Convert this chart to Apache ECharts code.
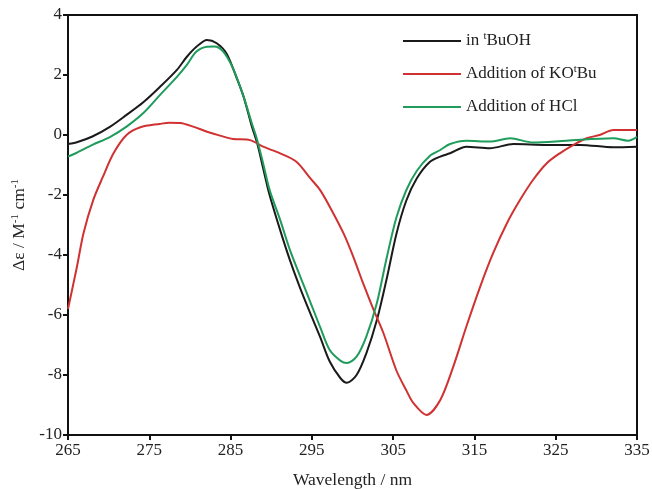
<!DOCTYPE html>
<html>
<head>
<meta charset="utf-8">
<script src="https://cdn.jsdelivr.net/npm/echarts@6/dist/echarts.min.js"></script>
<style>
  html, body { margin: 0; padding: 0; background: #fff; }
  #chart { width: 652px; height: 489px; }
</style>
</head>
<body>
<div id="chart"></div>
<script>
// CD spectra, wavelength (nm) vs delta epsilon
const butohX = [265, 266, 268, 270.2, 272.2, 274.3, 276.3, 278.4, 279.6, 280.8, 282.1, 283.3, 284.5, 285.7, 286.6, 287.6, 288.3, 289.0, 289.8, 291.1, 292.3, 293.5, 294.8, 296.0, 297.2, 298.5, 299.3, 300.5, 301.7, 303.0, 304.2, 305.4, 306.6, 307.9, 309.5, 310.8, 312.0, 314.0, 316.9, 319.8, 323.9, 328.0, 332.1, 335];
const butohY = [-0.3, -0.25, -0.05, 0.28, 0.67, 1.1, 1.6, 2.17, 2.6, 2.94, 3.17, 3.06, 2.72, 1.94, 1.28, 0.3, -0.3, -1.1, -2.0, -3.17, -4.17, -5.06, -5.94, -6.72, -7.55, -8.1, -8.26, -8.0, -7.28, -6.17, -4.8, -3.3, -2.2, -1.45, -0.9, -0.72, -0.61, -0.39, -0.44, -0.3, -0.33, -0.33, -0.41, -0.39];

const kotbuX = [265, 266.1, 266.9, 268.1, 269.3, 270.6, 272.2, 273.9, 276.3, 277.5, 278.8, 280.4, 282.1, 283.7, 285.3, 287.4, 289.0, 291.1, 293.1, 294.8, 296.0, 297.2, 298.9, 300.1, 301.3, 302.6, 303.8, 305.4, 306.6, 307.5, 309.1, 310.8, 312.4, 314.0, 315.7, 317.3, 319.0, 320.6, 322.2, 323.9, 325.5, 327.2, 328.8, 330.4, 332.1, 335];
const kotbuY = [-5.8, -4.39, -3.28, -2.17, -1.39, -0.61, 0.0, 0.26, 0.37, 0.41, 0.4, 0.28, 0.11, -0.02, -0.13, -0.17, -0.39, -0.61, -0.89, -1.44, -1.83, -2.39, -3.28, -4.06, -4.94, -5.83, -6.6, -7.85, -8.5, -8.94, -9.33, -8.83, -7.72, -6.39, -5.06, -3.94, -2.94, -2.17, -1.5, -0.94, -0.61, -0.33, -0.11, 0.0, 0.17, 0.17];

const hclX = [265, 266, 268, 270.2, 272.2, 274.3, 276.3, 278.4, 279.6, 280.8, 282.1, 283.0, 284.1, 285.3, 286.6, 287.6, 288.2, 289.0, 289.8, 291.1, 292.3, 293.5, 294.8, 296.0, 297.2, 298.5, 299.3, 300.5, 301.7, 303.0, 304.2, 305.4, 306.6, 307.9, 309.5, 310.8, 312.0, 314.0, 316.9, 319.4, 322.2, 326.3, 332.1, 333.9, 335];
const hclY = [-0.72, -0.6, -0.33, -0.06, 0.28, 0.74, 1.33, 1.94, 2.33, 2.78, 2.94, 2.95, 2.78, 2.22, 1.28, 0.4, -0.1, -0.94, -1.83, -2.83, -3.83, -4.67, -5.56, -6.39, -7.17, -7.52, -7.6, -7.39, -6.72, -5.6, -4.1, -2.75, -1.85, -1.2, -0.7, -0.5, -0.3, -0.19, -0.22, -0.11, -0.25, -0.19, -0.11, -0.19, -0.06];

const seriesNames = ['in {sup|t}BuOH', 'Addition of KO{sup|t}Bu', 'Addition of HCl'];
const seriesColors = ['#1a1a1a', '#d03131', '#1f9c5b'];

const font = 'Liberation Serif';
const sup = { fontSize: 11, fontFamily: font, color: '#222', padding: [0, 0, 9, 0] };

function pairs(xs, ys) {
  return xs.map((x, i) => [x, ys[i]]);
}

const chart = echarts.init(document.getElementById('chart'));
const option = {
  animation: false,
  grid: {
    left: 68, right: 15, top: 15, bottom: 54,
    outerBoundsMode: 'none',
    show: true, borderColor: '#111', borderWidth: 2
  },
  legend: {
    orient: 'vertical',
    left: 398, top: 26,
    icon: 'rect',
    itemWidth: 58, itemHeight: 2, itemGap: 13,
    textStyle: {
      fontFamily: font, fontSize: 17, color: '#222', lineHeight: 20,
      rich: { sup: sup }
    },
    data: seriesNames
  },
  xAxis: {
    type: 'value',
    min: 265, max: 335, interval: 10,
    name: 'Wavelength / nm',
    nameLocation: 'middle', nameGap: 36,
    nameTextStyle: { fontFamily: font, fontSize: 17.5, color: '#222' },
    axisLine: { onZero: false, lineStyle: { color: '#111', width: 2 } },
    axisTick: { show: true, length: 5, lineStyle: { color: '#111', width: 2 } },
    axisLabel: { fontFamily: font, fontSize: 17, color: '#222', margin: 7, showMaxLabel: true },
    splitLine: { show: false }
  },
  yAxis: {
    type: 'value',
    min: -10, max: 4, interval: 2,
    name: 'Δε / M{sup|-1} cm{sup|-1}',
    nameLocation: 'middle', nameGap: 34, nameRotate: 90,
    nameTextStyle: { fontFamily: font, fontSize: 17.5, color: '#222', rich: { sup: sup } },
    axisLine: { onZero: false, lineStyle: { color: '#111', width: 2 } },
    axisTick: { show: true, length: 5, lineStyle: { color: '#111', width: 2 } },
    axisLabel: { fontFamily: font, fontSize: 17, color: '#222', margin: 6 },
    splitLine: { show: false }
  },
  series: [
    { name: seriesNames[0], data: pairs(butohX, butohY), color: seriesColors[0] },
    { name: seriesNames[1], data: pairs(kotbuX, kotbuY), color: seriesColors[1] },
    { name: seriesNames[2], data: pairs(hclX, hclY), color: seriesColors[2] }
  ].map(s => Object.assign({
    type: 'line',
    showSymbol: false,
    symbol: 'none',
    smooth: 0.3,
    lineStyle: { width: 2 }
  }, s))
};
chart.setOption(option);
</script>
</body>
</html>
